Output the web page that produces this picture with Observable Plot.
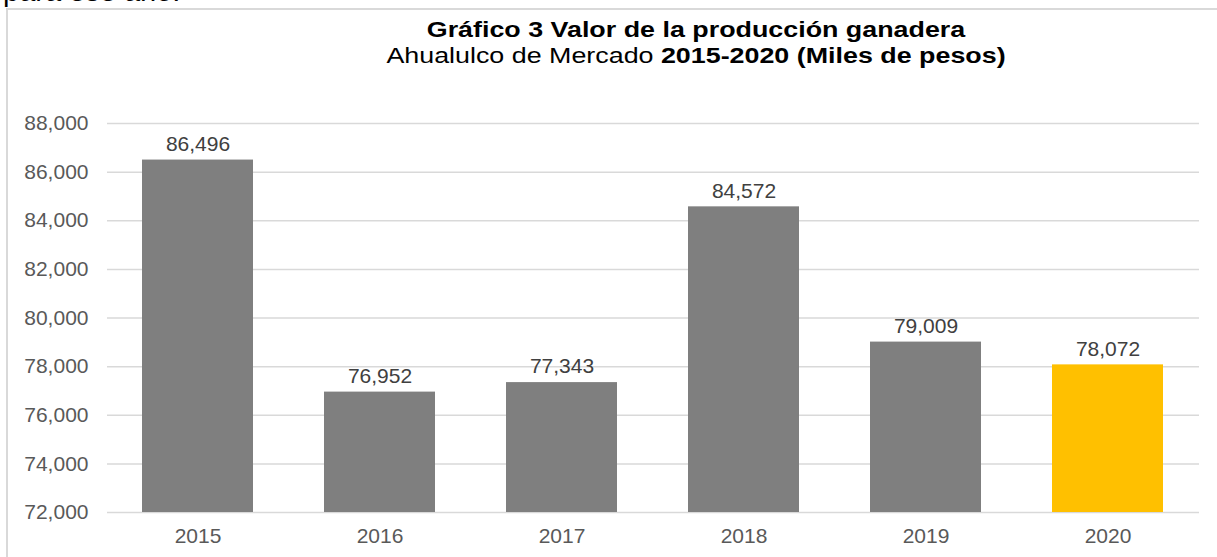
<!DOCTYPE html>
<html>
<head>
<meta charset="utf-8">
<script src="https://cdn.jsdelivr.net/npm/d3@7"></script>
<script src="https://cdn.jsdelivr.net/npm/@observablehq/plot@0.6"></script>
<style>
  html, body { margin: 0; padding: 0; background: #fff; }
  body { width: 1217px; height: 557px; position: relative; overflow: hidden; font-family: "Liberation Sans", Arial, sans-serif; }
  #prev { position: absolute; left: 3px; top: -23px; font-size: 29px; line-height: 29px; color: #000; white-space: nowrap; }
  #frame { position: absolute; left: 6px; top: 8px; width: 1300px; height: 600px; border-left: 2px solid #d9d9d9; border-top: 2px solid #d9d9d9; box-sizing: border-box; }
  #title { position: absolute; left: 0; width: 1392px; top: 17px; text-align: center; color: #000; transform: scaleX(1.22); transform-origin: 696px 0; }
  #title .t1 { font-size: 22px; font-weight: bold; line-height: 26px; }
  #title .t2 { font-size: 22px; line-height: 26px; }
  #chart { position: absolute; left: 0; top: 0; }
</style>
</head>
<body>
<div id="prev">para ese año.</div>
<div id="frame"></div>
<div id="chart"></div>
<div id="title">
  <div class="t1">Gráfico 3 Valor de la producción ganadera</div>
  <div class="t2">Ahualulco de Mercado <b>2015-2020 (Miles de pesos)</b></div>
</div>
<script>
const years = ["2015", "2016", "2017", "2018", "2019", "2020"];
const values = [86496, 76952, 77343, 84572, 79009, 78072];
const barColors = ["#7f7f7f", "#7f7f7f", "#7f7f7f", "#7f7f7f", "#7f7f7f", "#ffc000"];
const yTicks = [72000, 74000, 76000, 78000, 80000, 82000, 84000, 86000, 88000];

const data = years.map((y, i) => ({year: y, value: values[i], color: barColors[i]}));
const fmt = d3.format(",");

const chart = Plot.plot({
  width: 1217,
  height: 557,
  marginLeft: 107,
  marginRight: 18,
  marginTop: 123,
  marginBottom: 45,
  style: { fontFamily: "'Liberation Sans', Arial, sans-serif", fontSize: "21px", background: "transparent", overflow: "visible" },
  x: { domain: years, paddingInner: 0.39, paddingOuter: 0.195, label: null },
  y: { domain: [72000, 88000], label: null },
  marks: [
    Plot.ruleY(yTicks, { stroke: "#d9d9d9", strokeWidth: 1.5 }),
    Plot.barY(data, { x: "year", y1: 72000, y2: "value", fill: d => d.color }),
    Plot.text(data, { x: "year", y: "value", text: d => fmt(d.value), dy: -16, fill: "#404040", fontSize: 21 }),
    Plot.axisY(yTicks, { tickSize: 0, tickPadding: 19, tickFormat: fmt, fill: "#595959", fontSize: 21, label: null }),
    Plot.axisX({ tickSize: 0, tickPadding: 16, fill: "#595959", fontSize: 21, label: null })
  ]
});
document.getElementById("chart").appendChild(chart);
</script>
</body>
</html>
